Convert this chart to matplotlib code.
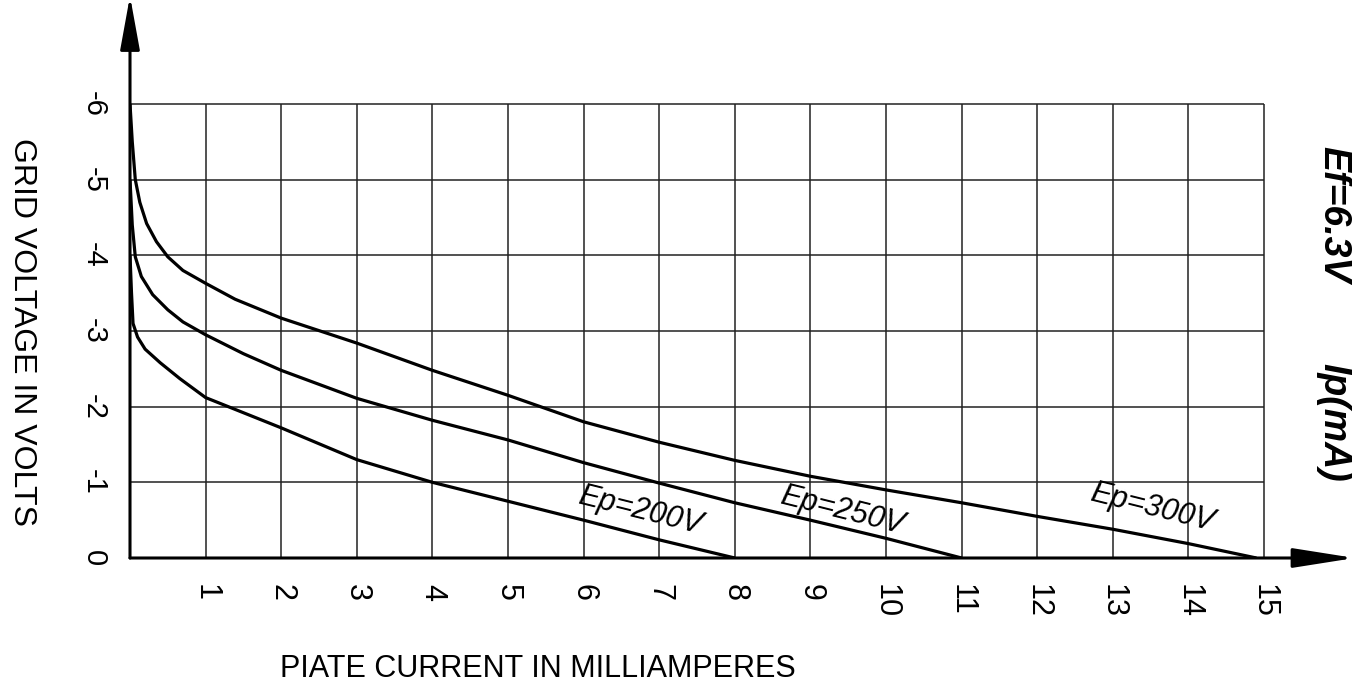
import numpy as np
import matplotlib.pyplot as plt

plt.rcParams['font.family'] = ['Liberation Sans', 'DejaVu Sans']

# plate current (mA) vs grid voltage (V) for three plate voltages
ip_200 = [0, 0.02, 0.04, 0.1, 0.2, 0.4, 0.66, 1, 2, 3, 4, 5, 6, 7, 8]
eg_200 = [-4.0, -3.5, -3.1, -2.92, -2.76, -2.58, -2.37, -2.12, -1.72, -1.3, -1.0, -0.75, -0.5, -0.24, 0]

ip_250 = [0, 0.03, 0.07, 0.15, 0.3, 0.5, 0.7, 1, 1.5, 2, 3, 4, 5, 6, 7, 8, 9, 10, 11]
eg_250 = [-5.0, -4.4, -3.98, -3.72, -3.48, -3.28, -3.12, -2.95, -2.7, -2.48, -2.11, -1.82, -1.56,
          -1.26, -0.99, -0.73, -0.5, -0.26, 0]

ip_300 = [0, 0.03, 0.07, 0.13, 0.22, 0.35, 0.5, 0.7, 1, 1.39, 2, 3, 4, 5, 6, 7, 8, 9, 10, 11, 12,
          13, 14, 14.9]
eg_300 = [-6.0, -5.5, -5.0, -4.7, -4.42, -4.18, -3.98, -3.8, -3.63, -3.42, -3.17, -2.84, -2.48,
          -2.15, -1.8, -1.53, -1.29, -1.08, -0.9, -0.73, -0.55, -0.38, -0.19, 0]

curve_labels = ['Ep=200V', 'Ep=250V', 'Ep=300V']
label_pos = [(6.75, -0.62), (9.42, -0.62), (13.52, -0.66)]

x_ticks = list(range(1, 16))
y_ticks = [0, -1, -2, -3, -4, -5, -6]

W, H = 1352, 697
fig = plt.figure(figsize=(W / 100, H / 100), dpi=100)
ax = fig.add_axes([130 / W, 1 - 558 / H, (1345 - 130) / W, (558 - 3) / H])
ax.set_xlim(0, (1345 - 130) / 75.6)
ax.set_ylim(0, -(558 - 3) / 75.67)

# grid only inside the 15 x 6 box
ax.vlines(x_ticks, 0, -6, color='#222222', lw=1.1)
ax.hlines(y_ticks[1:], 0, 15, color='#222222', lw=1.1)

for xs, ys in [(ip_200, eg_200), (ip_250, eg_250), (ip_300, eg_300)]:
    ax.plot(xs, ys, color='black', lw=2.3, solid_capstyle='butt')

for txt, (lx, ly) in zip(curve_labels, label_pos):
    ax.text(lx, ly, txt, rotation=-14, ha='center', va='center',
            fontsize=22, style='italic')

for s in ax.spines.values():
    s.set_visible(False)

# axes with arrow heads
ax.annotate('', xy=(1.008, 0), xytext=(0, 0), xycoords='axes fraction',
            arrowprops=dict(arrowstyle='-|>,head_length=3.8,head_width=0.6',
                            mutation_scale=10, color='black', lw=2.2,
                            shrinkA=0, shrinkB=0))
ax.annotate('', xy=(0, 1.0126), xytext=(0, 0), xycoords='axes fraction',
            arrowprops=dict(arrowstyle='-|>,head_length=3.3,head_width=0.6',
                            mutation_scale=10, color='black', lw=2.2,
                            shrinkA=0, shrinkB=0))

ax.set_xticks(x_ticks)
ax.set_xticklabels([str(v) for v in x_ticks], rotation=-90, fontsize=22)
ax.set_yticks(y_ticks)
ax.set_yticklabels([str(v) for v in y_ticks], rotation=-90, fontsize=21, va='center')
ax.tick_params(axis='x', length=0, pad=19)
ax.tick_params(axis='y', length=0, pad=16)

fig.text(22 / W, 1 - 332 / H, 'GRID VOLTAGE IN VOLTS', rotation=-90,
         ha='center', va='center', fontsize=23)
fig.text(280 / W, 1 - 677 / H, 'PIATE CURRENT IN MILLIAMPERES',
         ha='left', va='baseline', fontsize=22)
fig.text(1333 / W, 1 - 214 / H, 'Ef=6.3V', rotation=-90, ha='center', va='center',
         fontsize=27, style='italic', weight='bold')
fig.text(1333 / W, 1 - 422 / H, 'Ip(mA)', rotation=-90, ha='center', va='center',
         fontsize=27, style='italic', weight='bold')

fig.savefig('out.png', dpi=100)
